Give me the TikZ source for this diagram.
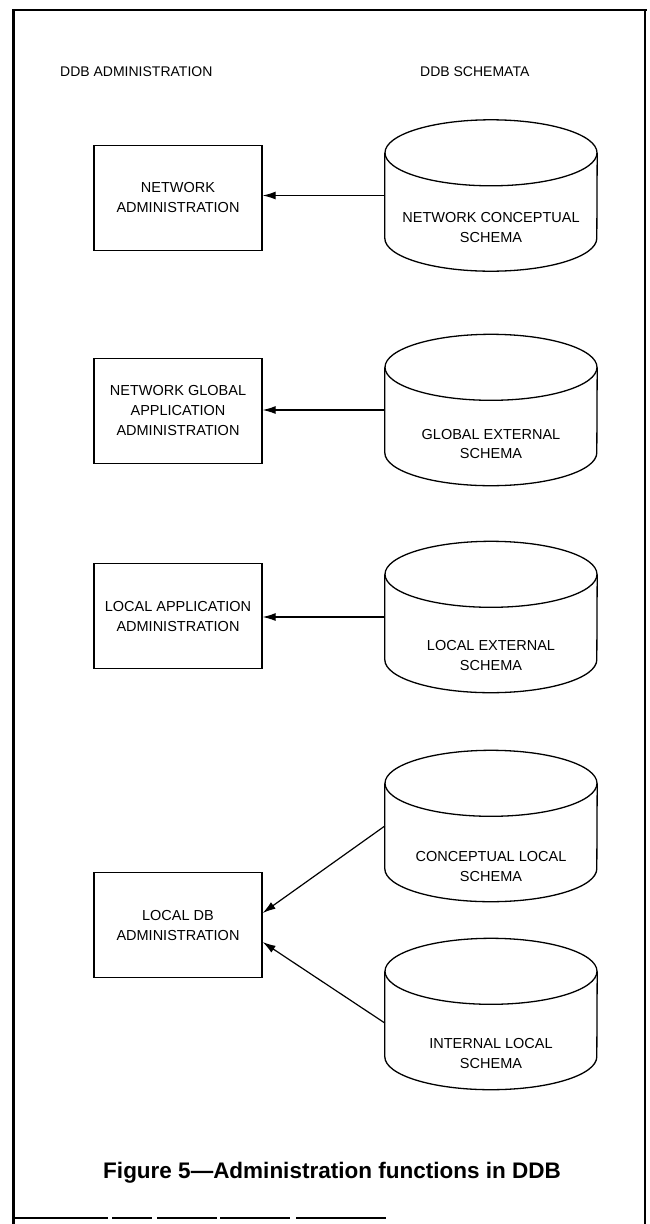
\documentclass[tikz,border=0pt]{standalone}
\usepackage{fontspec}
\setmainfont{Liberation Sans}
\usetikzlibrary{calc,arrows.meta}

% database drum drawn around an invisible named node
\newcommand\dbshape[1]{%
  \draw[dbline] ($(#1.north west)+(0,33)$) -- ($(#1.south west)+(0,-33)$)
    arc[start angle=180, end angle=360, x radius=106pt, y radius=33pt]
    -- ($(#1.north east)+(0,33)$);
  \draw[dbline] ($(#1.north)+(0,33)$) ellipse[x radius=106pt, y radius=33pt];
}

\begin{document}
\begin{tikzpicture}[x=1pt, y=-1pt,
  txt/.style={font=\fontsize{14.5}{20}\selectfont, align=center, inner sep=0},
  head/.style={font=\fontsize{14}{18}\selectfont, anchor=west, inner sep=0},
  adminbox/.style={draw, line width=1.3pt, minimum width=168pt, minimum height=105pt,
    inner sep=0, font=\fontsize{14.5}{20}\selectfont, align=center},
  dbnode/.style={minimum width=212pt, minimum height=151pt, inner sep=0},
  dbline/.style={line width=1.3pt},
  link/.style={line width=1.2pt, -{Latex[length=13pt,width=8pt]}},
  frame/.style={line cap=butt}]
\useasboundingbox (0,0) rectangle (649,1224);

% outer frame
\draw[frame, line width=3.2pt] (13.5,9) -- (13.5,1224);
\draw[frame, line width=2pt] (12,10) -- (647,10);
\draw[frame, line width=1.6pt] (645,10) -- (645,1224);
\draw[frame, line width=1.3pt, dash pattern=on 95pt off 4pt on 40pt off 5pt on 60pt off 3pt on 70pt off 6pt on 90pt off 200pt]
  (13,1218) -- (400,1218);

% column headings
\node[head] (h1) at (60,72) {DDB ADMINISTRATION};
\node[head] (h2) at (420,72) {DDB SCHEMATA};

% administration functions
\node[adminbox] (b1) at (178,198) {NETWORK\\ADMINISTRATION};
\node[adminbox] (b2) at (178,411) {NETWORK GLOBAL\\APPLICATION\\ADMINISTRATION};
\node[adminbox] (b3) at (178,616) {LOCAL APPLICATION\\ADMINISTRATION};
\node[adminbox] (b4) at (178,925) {LOCAL DB\\ADMINISTRATION};

% schemata
\node[dbnode] (c1) at (491,195.5) {};
\node[dbnode] (c2) at (491,410) {};
\node[dbnode] (c3) at (491,617) {};
\node[dbnode] (c4) at (491,826) {};
\node[dbnode] (c5) at (491,1014) {};
\dbshape{c1}\dbshape{c2}\dbshape{c3}\dbshape{c4}\dbshape{c5}

\node[txt] (t1) at ($(c1)+(0,32)$) {NETWORK CONCEPTUAL\\SCHEMA};
\node[txt] (t2) at ($(c2)+(0,34)$) {GLOBAL EXTERNAL\\SCHEMA};
\node[txt] (t3) at ($(c3)+(0,38)$) {LOCAL EXTERNAL\\SCHEMA};
\node[txt] (t4) at ($(c4)+(0,40)$) {CONCEPTUAL LOCAL\\SCHEMA};
\node[txt] (t5) at ($(c5)+(0,39)$) {INTERNAL LOCAL\\SCHEMA};

% connectors
\draw[link] (c1.west) -- (b1.east |- c1.west);
\draw[link] (c2.west) -- (b2.east |- c2.west);
\draw[link] (c3.west) -- (b3.east |- c3.west);
\draw[link] (c4.west) -- ([yshift=12pt]b4.east);
\draw[link] ([yshift=-9pt]c5.west) -- ([yshift=-17pt]b4.east);

% caption
\node[font=\fontsize{22.5}{26}\bfseries, inner sep=0] (cap) at (332,1173)
  {Figure 5---Administration functions in DDB};
\end{tikzpicture}
\end{document}
